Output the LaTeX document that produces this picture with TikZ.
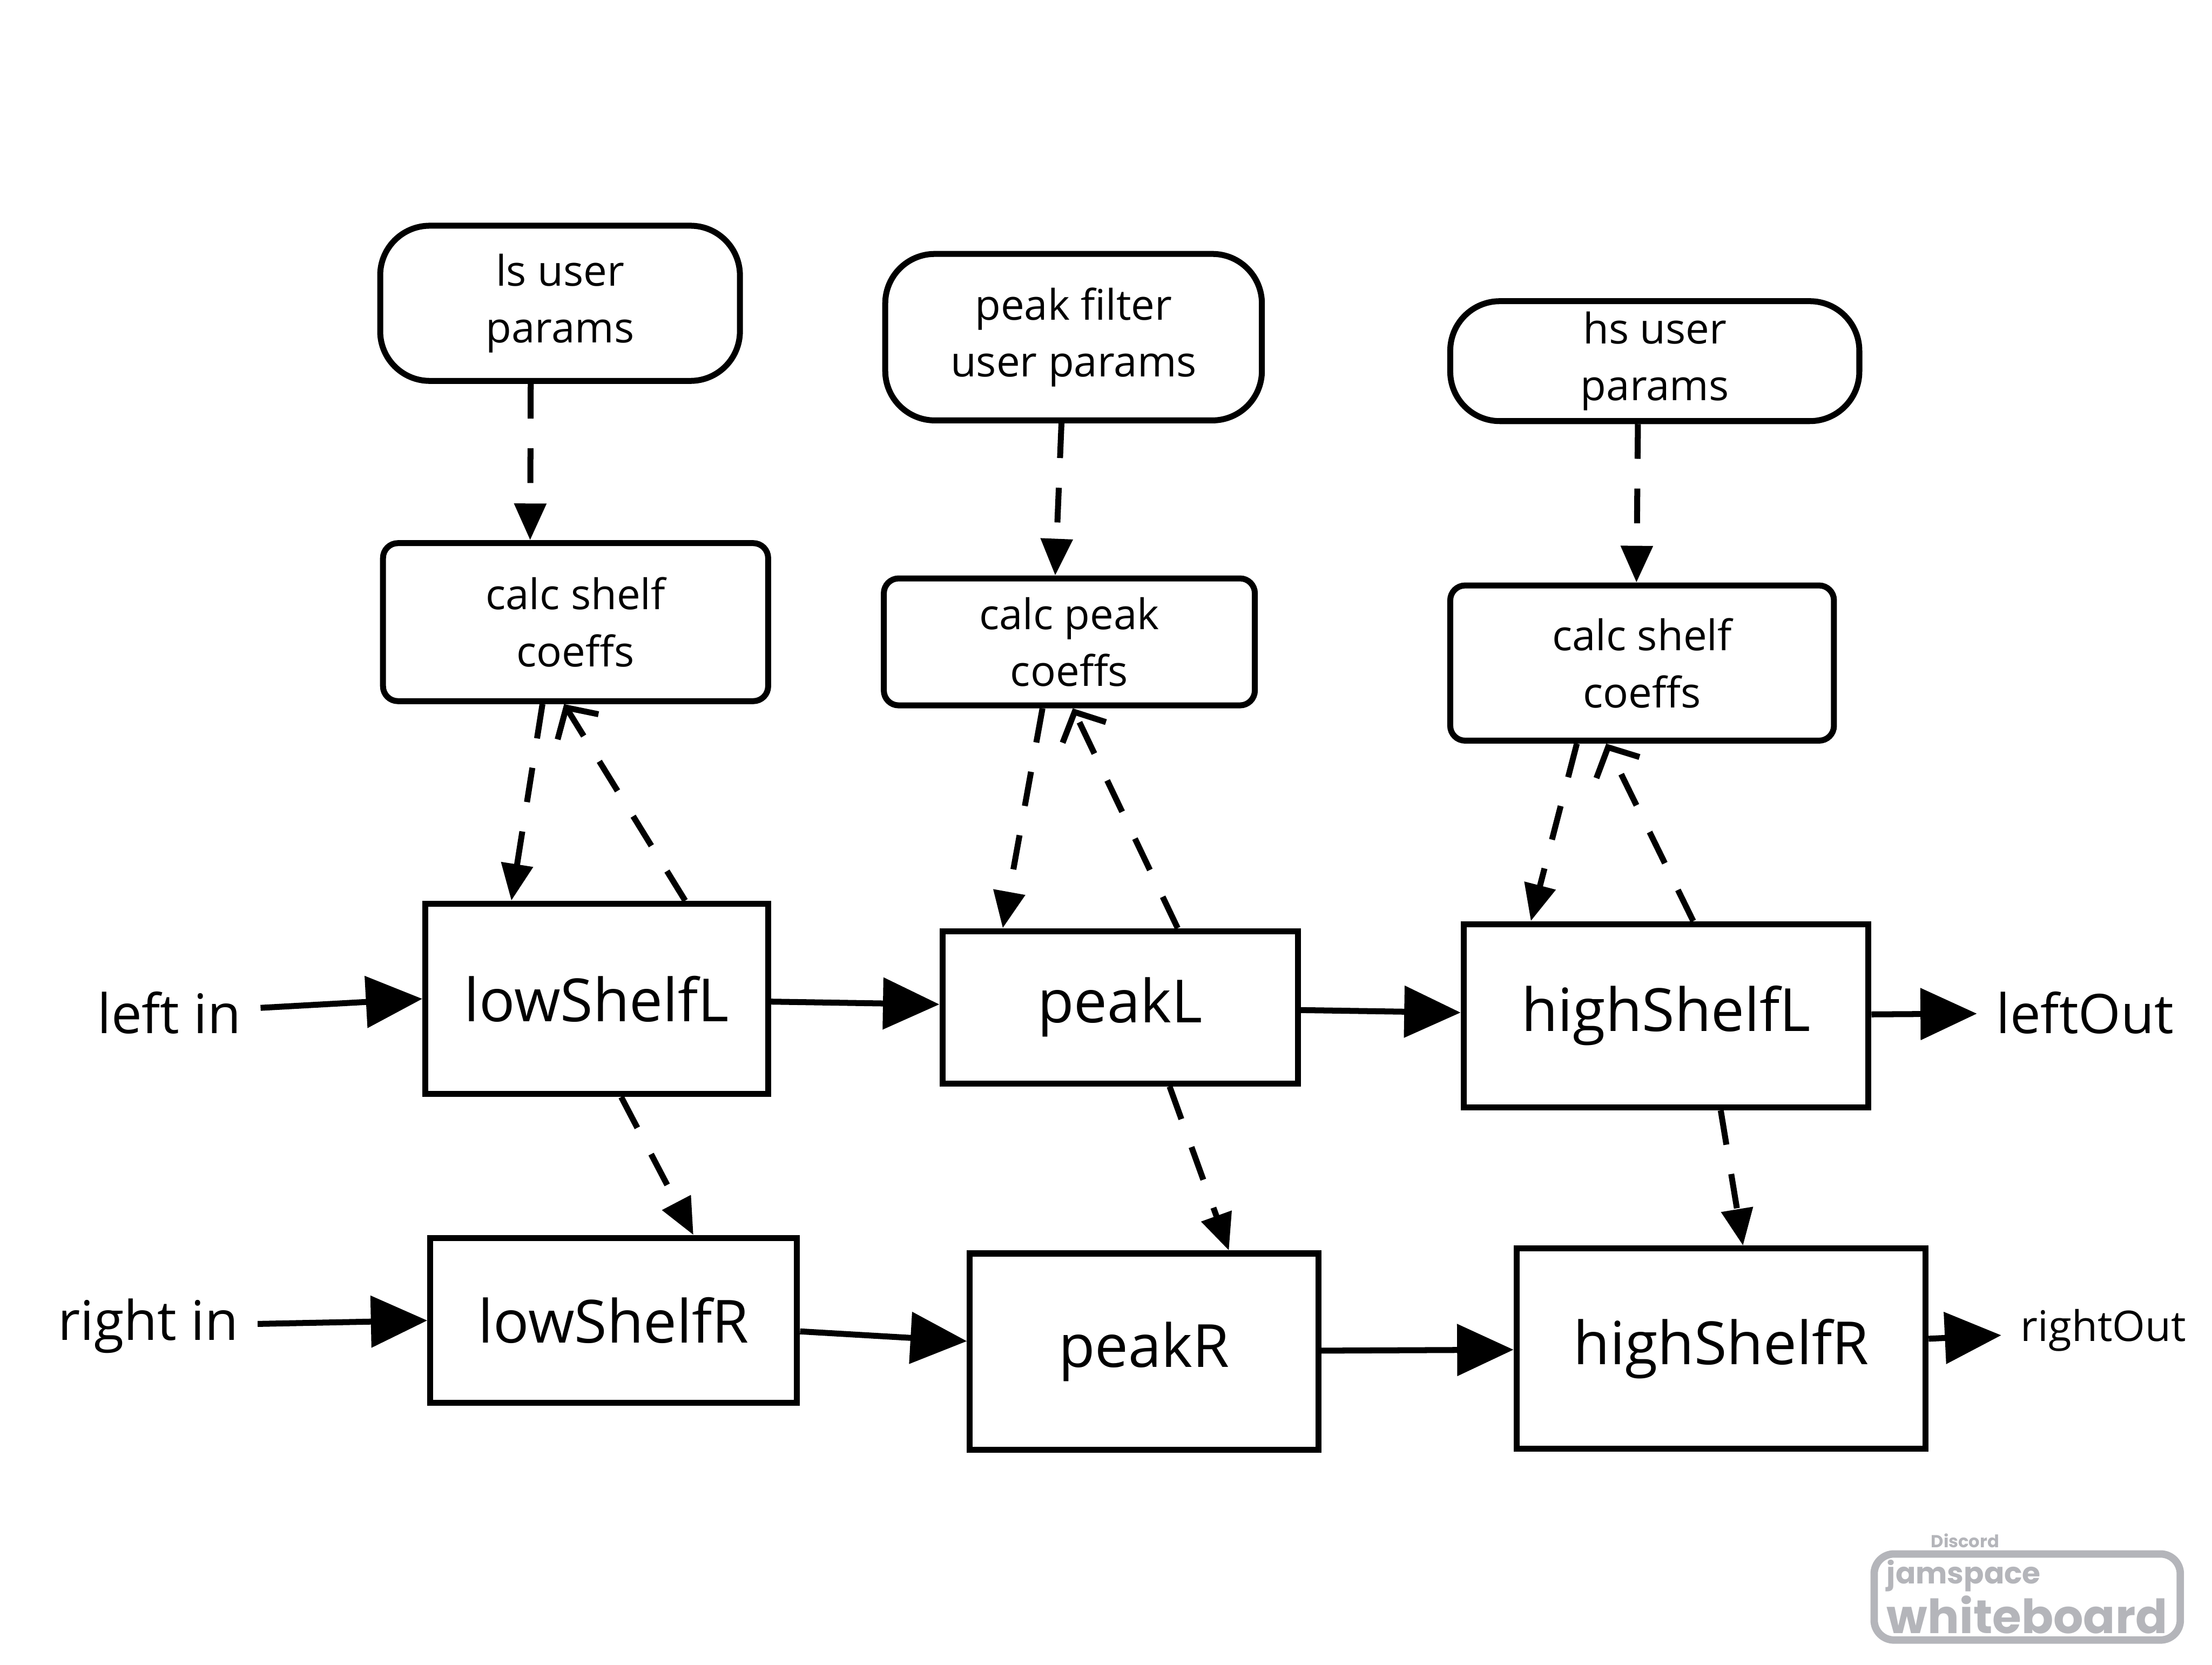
\documentclass[tikz,border=0pt]{standalone}
\usepackage{fontspec}
\setmainfont{Open Sans}
\newfontfamily\logofont{Poppins}
\usetikzlibrary{arrows.meta,positioning}
\tikzset{every node/.append style={align=center}}
\definecolor{logogray}{RGB}{180,181,186}

\begin{document}
\begin{tikzpicture}[
    line width=1.2pt,
    param/.style={draw, rounded corners=10pt, inner sep=2pt, font=\fontsize{8.5}{11.5}\selectfont},
    calcbox/.style={draw, rounded corners=3pt, inner sep=2pt, font=\fontsize{8.5}{11.5}\selectfont},
    filt/.style={draw, font=\fontsize{12}{14}\selectfont},
    iolabel/.style={font=\fontsize{11}{13}\selectfont},
    flow/.style={-{Triangle[length=4mm,width=3.6mm]}},
    ctrl/.style={dash pattern=on 7pt off 6pt, -{Triangle[length=2.6mm,width=2.2mm]}},
    back/.style={dash pattern=on 7pt off 6pt, -{Straight Barb[length=1.6mm,width=3.4mm]}},
]
    \useasboundingbox (0,0) rectangle (15.68,11.80);

    % User parameters
    \node[param, minimum width=2.55cm, minimum height=1.1cm] (lsparams) at (3.97, 9.65) {ls user\\params};
    \node[param, minimum width=2.67cm, minimum height=1.18cm] (pkparams) at (7.61, 9.41) {peak filter\\user params};
    \node[param, minimum width=2.9cm, minimum height=0.85cm] (hsparams) at (11.73, 9.24) {hs user\\params};

    % Coefficient calculation
    \node[calcbox, minimum width=2.73cm, minimum height=1.12cm] (lscalc) at (4.08, 7.39) {calc shelf\\coeffs};
    \node[calcbox, minimum width=2.63cm, minimum height=0.9cm] (pkcalc) at (7.58, 7.25) {calc peak\\coeffs};
    \node[calcbox, minimum width=2.72cm, minimum height=1.1cm] (hscalc) at (11.64, 7.10) {calc shelf\\coeffs};

    % Filters
    \node[filt, minimum width=2.43cm, minimum height=1.35cm] (lowL) at (4.23, 4.72) {lowShelfL};
    \node[filt, minimum width=2.52cm, minimum height=1.08cm] (peakL) at (7.94, 4.66) {peakL};
    \node[filt, minimum width=2.87cm, minimum height=1.3cm] (highL) at (11.81, 4.60) {highShelfL};
    \node[filt, minimum width=2.6cm, minimum height=1.17cm] (lowR) at (4.35, 2.44) {lowShelfR};
    \node[filt, minimum width=2.47cm, minimum height=1.39cm] (peakR) at (8.11, 2.22) {peakR};
    \node[filt, minimum width=2.9cm, minimum height=1.42cm] (highR) at (12.20, 2.24) {highShelfR};

    % Inputs and outputs
    \node[iolabel] (leftin) at (1.20, 4.62) {left in};
    \node[iolabel] (rightin) at (1.05, 2.40) {right in};
    \node[iolabel] (leftout) at (14.78, 4.62) {leftOut};
    \node[font=\fontsize{8.5}{10}\selectfont] (rightout) at (14.91, 2.37) {rightOut};

    % Audio path
    \draw[flow] (leftin) -- (lowL.west);
    \draw[flow] (lowL) -- (peakL);
    \draw[flow] (peakL) -- (highL);
    \draw[flow] (highL) -- (leftout);
    \draw[flow] (rightin) -- (lowR.west);
    \draw[flow] (lowR) -- (peakR);
    \draw[flow] (peakR) -- (highR);
    \draw[flow] (highR) -- (rightout);

    % Parameters into coefficients
    \draw[ctrl] (lsparams.250) -- (lscalc.119);
    \draw[ctrl] (pkparams.262) -- (pkcalc.102);
    \draw[ctrl] (hsparams.255) -- (hscalc.94);

    % Coefficients to filters and back
    \draw[ctrl] (lscalc.248) -- (lowL.131);
    \draw[back] (lowL.48) -- (lscalc.262);
    \draw[ctrl] (pkcalc.248) -- (peakL.146);
    \draw[back] (peakL.54) -- (pkcalc.273);
    \draw[ctrl] (hscalc.231) -- (highL.145);
    \draw[back] (highL.74) -- (hscalc.246);

    % Left to right channel
    \draw[ctrl] (lowL.284) -- (lowR.47);
    \draw[ctrl] (peakL.302) -- (peakR.50);
    \draw[ctrl] (highL.300) -- (highR.78);

    % Watermark
    \node[draw=logogray, line width=1.5pt, rounded corners=4pt, minimum width=2.17cm, minimum height=0.61cm, text=logogray, align=left, inner sep=1pt,
        font=\logofont\bfseries]
        (logo) at (14.37, 0.48) {{\fontsize{6}{6}\selectfont jamspace}\\[-2pt]{\fontsize{9.5}{10}\selectfont whiteboard}};
    \node[font=\logofont\bfseries\fontsize{3.5}{4}\selectfont, text=logogray, anchor=west] (discord) at (13.55, 0.88) {Discord};
\end{tikzpicture}
\end{document}
